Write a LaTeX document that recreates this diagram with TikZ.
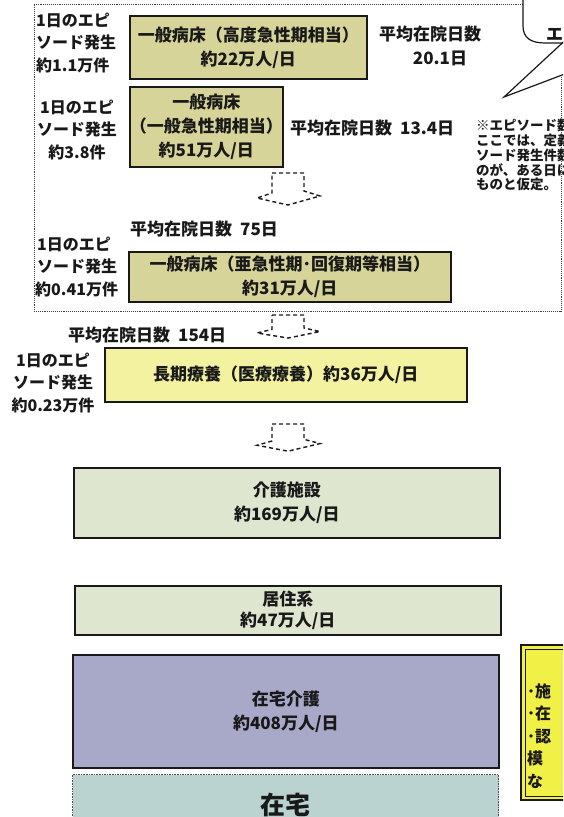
\documentclass[tikz,border=0pt]{standalone}
\usepackage{fontspec}
\setmainfont{Noto Sans CJK JP}
\definecolor{khaki}{RGB}{214,212,152}
\definecolor{paleyel}{RGB}{242,242,160}
\definecolor{palegrn}{RGB}{222,230,208}
\definecolor{lavend}{RGB}{168,168,200}
\definecolor{paleteal}{RGB}{186,210,208}
\definecolor{brightyel}{RGB}{240,240,70}
\definecolor{ink}{RGB}{25,25,25}
\newcommand\mainsz{\fontsize{17}{24}\selectfont\bfseries}
\newcommand\labsz{\fontsize{16}{22.5}\selectfont\bfseries}
\newcommand\notesz{\fontsize{13.5}{14.8}\selectfont\bfseries}
\newcommand\bigsz{\fontsize{25}{28}\selectfont\bfseries}
\begin{document}
\begin{tikzpicture}[x=1pt,y=-1pt,
  box/.style={draw=ink, line width=1.6pt, align=center, inner sep=0pt, anchor=north west, font=\mainsz, text=ink},
  txt/.style={inner sep=0pt, font=\mainsz, text=ink},
  lab/.style={inner sep=0pt, font=\labsz, text=ink},
  note/.style={inner sep=0pt, font=\notesz, text=ink, align=left, anchor=north west},
  dotline/.style={densely dotted, line width=0.9pt, black!75},
  arrline/.style={dash pattern=on 4pt off 3pt, line width=1.4pt, ink},
  dasharr/.pic={\draw[arrline] (-16,0) -- (16,0) -- (16,18) -- (32,23) -- (0,32) -- (-31,25) -- (-16,20) -- cycle;}
]
\useasboundingbox (0,0) rectangle (563,817);
\fill[white] (0,0) rectangle (563,817);
\clip (0,0) rectangle (563,817);

% big dotted frame
\draw[dotline] (523,4) -- (34,4) -- (34,311) -- (561,311) -- (561,75);

% callout (cut by the picture edge)
\draw[line width=1.2pt, ink] (523,-3) -- (523,26) .. controls (523,38) and (531,43) .. (545,43) -- (570,43);
\draw[line width=1.2pt, ink, line join=miter] (572,34) -- (504,97) -- (578,69);
\node[txt, anchor=west] (ce) at (546,34) {エ};

% hospital boxes
\node[box, fill=khaki, minimum width=237, minimum height=63] (b1) at (129,15) {一般病床（高度急性期相当）\\約22万人/日};
\node[box, fill=khaki, minimum width=151, minimum height=80] (b2) at (129,86) {一般病床\\（一般急性期相当）\\約51万人/日};
\node[box, fill=khaki, minimum width=322, minimum height=50] (b3) at (128,251) {一般病床（亜急性期･回復期等相当）\\約31万人/日};
\node[box, fill=paleyel, minimum width=362, minimum height=54] (b4) at (104,347) {長期療養（医療療養）約36万人/日};
\node[box, fill=palegrn, minimum width=426, minimum height=70] (b5) at (73,467) {介護施設\\約169万人/日};
\node[box, fill=palegrn, minimum width=426, minimum height=49] (b6) at (74,585) {居住系\\[-3pt]約47万人/日};
\node[box, fill=lavend, minimum width=426, minimum height=113] (b7) at (72,654) {在宅介護\\約408万人/日};
\node[box, fill=paleteal, draw=black!70, densely dotted, line width=1pt, minimum width=426, minimum height=60, font=\bigsz] (b8) at (72,774) {在宅};

% yellow box on the right (cut by the edge)
\fill[brightyel] (521,645) rectangle (600,800);
\draw[ink, line width=2pt] (521,645) rectangle (600,800);
\draw[ink, line width=0.8pt] (525,649) rectangle (596,796);
\node[lab, align=left, anchor=west] (yt) at (527,736) {･施\\･在\\･認\\模\\な};

% left labels
\node[lab, align=left, anchor=west] (e1) at (36,43) {1日のエピ\\ソード発生\\約1.1万件};
\node[lab, align=center] (e2) at (77,130) {1日のエピ\\ソード発生\\約3.8件};
\node[lab, align=left, anchor=west] (e3) at (35,267) {\hspace{2pt}1日のエピ\\\hspace{2pt}ソード発生\\約0.41万件};
\node[lab, align=center] (e4) at (53,383) {1日のエピ\\ソード発生\\約0.23万件};

% average stay labels
\node[txt] (p1) at (430,34) {平均在院日数};
\node[txt] (p1b) at (440,58) {20.1日};
\node[txt, anchor=west] (p2) at (290,128) {平均在院日数\hspace{8pt}13.4日};
\node[txt, anchor=west] (p3) at (130,229) {平均在院日数\hspace{8pt}75日};
\node[txt, anchor=west] (p4) at (68,335) {平均在院日数\hspace{8pt}154日};

% note
\node[note] (nt) at (476,119) {※エピソード数\\ここでは、定義\\ソード発生件数\\のが、ある日に\\ものと仮定。};

% dashed block arrows
\coordinate (a1) at (288,173);
\coordinate (a2) at (288,315);
\coordinate (a3) at (288,424);
\pic at (a1) {dasharr};
\pic[yscale=0.72] at (a2) {dasharr};
\pic[yscale=0.85] at (a3) {dasharr};
\end{tikzpicture}
\end{document}
